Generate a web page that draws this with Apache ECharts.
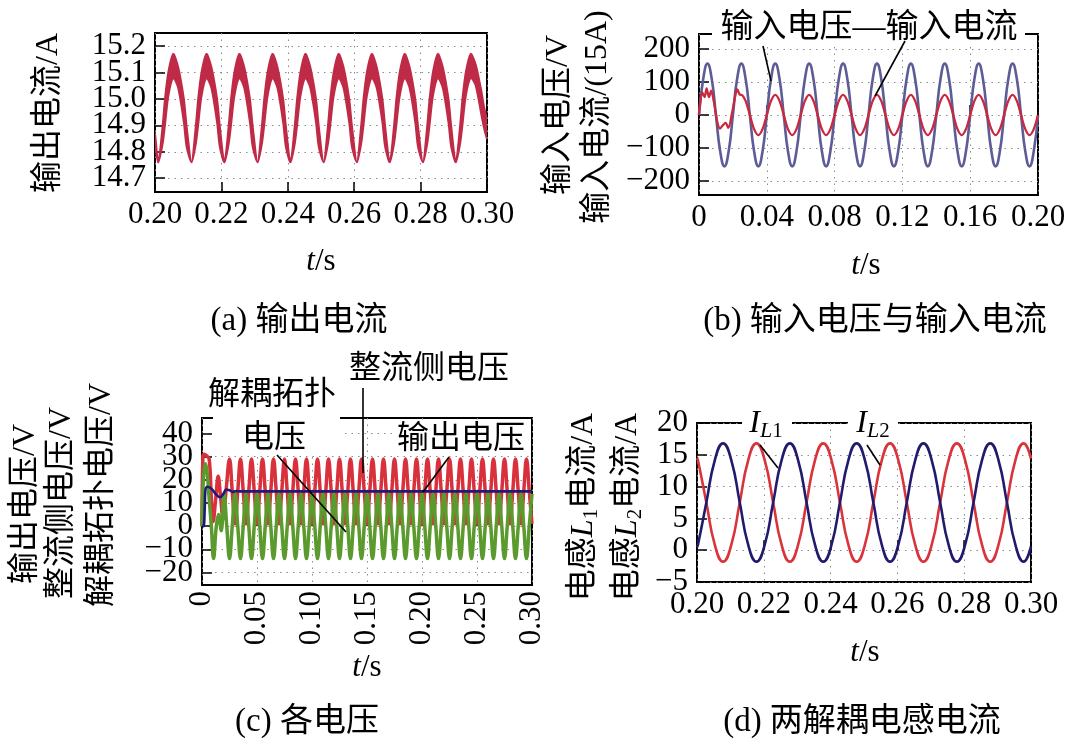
<!DOCTYPE html>
<html><head><meta charset="utf-8">
<script src="https://cdn.jsdelivr.net/npm/echarts@6/dist/echarts.min.js"></script>
<style>html,body{margin:0;padding:0;background:#fff}#c{width:1073px;height:749px}</style>
</head><body><div id="c"></div>
<script>
// ---------- (a) output current band (upper / lower envelope), t in s, A ----------
const aTime = [0.2000,
 0.2010,0.2023,0.2030,0.2040,0.2055,0.2070,0.2087,0.2095,
 0.2110,0.2123,0.2130,0.2140,0.2155,0.2170,0.2187,0.2195,
 0.2209,0.2222,0.2229,0.2239,0.2254,0.2269,0.2286,0.2294,
 0.2309,0.2322,0.2329,0.2339,0.2354,0.2369,0.2386,0.2394,
 0.2408,0.2421,0.2428,0.2438,0.2453,0.2468,0.2485,0.2493,
 0.2508,0.2521,0.2528,0.2538,0.2553,0.2568,0.2585,0.2593,
 0.2608,0.2621,0.2628,0.2638,0.2653,0.2668,0.2685,0.2693,
 0.2707,0.2720,0.2727,0.2737,0.2752,0.2767,0.2784,0.2792,
 0.2807,0.2820,0.2827,0.2837,0.2852,0.2867,0.2884,0.2892,
 0.2906,0.2919,0.2926,0.2936,0.2951,0.2966,0.2983,0.2991,
 0.3000];
const aUpper = [14.87,
 14.76,14.90,15.00,15.10,15.17,15.12,15.00,14.90,
 14.76,14.90,15.00,15.10,15.17,15.12,15.00,14.90,
 14.76,14.90,15.00,15.10,15.17,15.12,15.00,14.90,
 14.76,14.90,15.00,15.10,15.17,15.12,15.00,14.90,
 14.76,14.90,15.00,15.10,15.17,15.12,15.00,14.90,
 14.76,14.90,15.00,15.10,15.17,15.12,15.00,14.90,
 14.76,14.90,15.00,15.10,15.17,15.12,15.00,14.90,
 14.76,14.90,15.00,15.10,15.17,15.12,15.00,14.90,
 14.76,14.90,15.00,15.10,15.17,15.12,15.00,14.90,
 14.76,14.90,15.00,15.10,15.17,15.13,15.03,14.97,
 14.92];
const aLower = [14.83,
 14.76,14.83,14.90,15.01,15.08,15.04,14.91,14.82,
 14.76,14.83,14.90,15.01,15.08,15.04,14.91,14.82,
 14.76,14.83,14.90,15.01,15.08,15.04,14.91,14.82,
 14.76,14.83,14.90,15.01,15.08,15.04,14.91,14.82,
 14.76,14.83,14.90,15.01,15.08,15.04,14.91,14.82,
 14.76,14.83,14.90,15.01,15.08,15.04,14.91,14.82,
 14.76,14.83,14.90,15.01,15.08,15.04,14.91,14.82,
 14.76,14.83,14.90,15.01,15.08,15.04,14.91,14.82,
 14.76,14.83,14.90,15.01,15.08,15.04,14.91,14.82,
 14.76,14.83,14.90,15.01,15.08,15.05,14.94,14.89,
 14.85];
const aYTicksOdd = [14.7,14.9,15.1];
const aYTicksEven = [14.8,15.0,15.2];

// ---------- (b) input voltage / input current ----------
const bTime = [0,0.0025,0.005,0.0075,0.01,0.0125,0.015,0.0175,0.02,0.0225,0.025,0.0275,0.03,0.0325,0.035,0.0375,
 0.04,0.0425,0.045,0.0475,0.05,0.0525,0.055,0.0575,0.06,0.0625,0.065,0.0675,0.07,0.0725,0.075,0.0775,
 0.08,0.0825,0.085,0.0875,0.09,0.0925,0.095,0.0975,0.1,0.1025,0.105,0.1075,0.11,0.1125,0.115,0.1175,
 0.12,0.1225,0.125,0.1275,0.13,0.1325,0.135,0.1375,0.14,0.1425,0.145,0.1475,0.15,0.1525,0.155,0.1575,
 0.16,0.1625,0.165,0.1675,0.17,0.1725,0.175,0.1775,0.18,0.1825,0.185,0.1875,0.19,0.1925,0.195,0.1975,0.2];
const bVolt = [0,110,156,110,0,-110,-156,-110, 0,110,156,110,0,-110,-156,-110,
 0,110,156,110,0,-110,-156,-110, 0,110,156,110,0,-110,-156,-110,
 0,110,156,110,0,-110,-156,-110, 0,110,156,110,0,-110,-156,-110,
 0,110,156,110,0,-110,-156,-110, 0,110,156,110,0,-110,-156,-110,
 0,110,156,110,0,-110,-156,-110, 0,110,156,110,0,-110,-156,-110, 0];
const bCurrTime = [0,0.0008,0.0019,0.0033,0.0045,0.0059,0.0072,0.0088,0.0108,0.0124,0.0141,0.0157,0.0173,0.0196,0.0216,0.0226,0.0240,0.0255,
 0.0275,0.03,0.0325,0.035,0.0375,0.04,0.0425,0.045,0.0475,0.05,0.0525,0.055,0.0575,0.06,0.0625,0.065,0.0675,0.07,0.0725,0.075,0.0775,
 0.08,0.0825,0.085,0.0875,0.09,0.0925,0.095,0.0975,0.1,0.1025,0.105,0.1075,0.11,0.1125,0.115,0.1175,
 0.12,0.1225,0.125,0.1275,0.13,0.1325,0.135,0.1375,0.14,0.1425,0.145,0.1475,0.15,0.1525,0.155,0.1575,
 0.16,0.1625,0.165,0.1675,0.17,0.1725,0.175,0.1775,0.18,0.1825,0.185,0.1875,0.19,0.1925,0.195,0.1975,0.2];
const bCurr = [0,40,69,54,81,54,74,39,-21,-41,-31,-24,-39,9,64,78,62,60,
 43, 0,-43,-61,-43,0,43,61,43, 0,-43,-61,-43,0,43,61,43, 0,-43,-61,-43,0,43,61,43,
 0,-43,-61,-43,0,43,61,43, 0,-43,-61,-43,0,43,61,43, 0,-43,-61,-43,0,43,61,43,
 0,-43,-61,-43,0,43,61,43, 0,-43,-61,-43,0,43,61,43, 0,-43,-61,-43,0];
const bYTicks = [-200,-100,0,100,200];

// ---------- (c) voltages ----------
const cRedTT = [0,0.0008,0.002,0.004,0.0065,0.0085,0.0101,0.0125,0.0147,0.017,0.0192,0.022];
const cRedTV = [0,30,31,30.5,29,12,2,12,21.5,12,3,16];
const cGreenTT = [0,0.0012,0.003,0.0045,0.0065,0.0085,0.0105,0.013,0.015,0.0175,0.02,0.0225];
const cGreenTV = [0,20,27,24,12,0,-14,0,5,-2,14,0];
const cTime = [0.025,0.0275,0.03,0.0325,0.035,0.0375,0.04,0.0425,0.045,0.0475,
 0.05,0.0525,0.055,0.0575,0.06,0.0625,0.065,0.0675,0.07,0.0725,
 0.075,0.0775,0.08,0.0825,0.085,0.0875,0.09,0.0925,0.095,0.0975,
 0.1,0.1025,0.105,0.1075,0.11,0.1125,0.115,0.1175,0.12,0.1225,
 0.125,0.1275,0.13,0.1325,0.135,0.1375,0.14,0.1425,0.145,0.1475,
 0.15,0.1525,0.155,0.1575,0.16,0.1625,0.165,0.1675,0.17,0.1725,
 0.175,0.1775,0.18,0.1825,0.185,0.1875,0.19,0.1925,0.195,0.1975,
 0.2,0.2025,0.205,0.2075,0.21,0.2125,0.215,0.2175,0.22,0.2225,
 0.225,0.2275,0.23,0.2325,0.235,0.2375,0.24,0.2425,0.245,0.2475,
 0.25,0.2525,0.255,0.2575,0.26,0.2625,0.265,0.2675,0.27,0.2725,
 0.275,0.2775,0.28,0.2825,0.285,0.2875,0.29,0.2925,0.295,0.2975,
 0.3];
const cRed = [29,15,1,15,29,15,1,15,29,15, 1,15,29,15,1,15,29,15,1,15,
 29,15,1,15,29,15,1,15,29,15, 1,15,29,15,1,15,29,15,1,15,
 29,15,1,15,29,15,1,15,29,15, 1,15,29,15,1,15,29,15,1,15,
 29,15,1,15,29,15,1,15,29,15, 1,15,29,15,1,15,29,15,1,15,
 29,15,1,15,29,15,1,15,29,15, 1,15,29,15,1,15,29,15,1,15,
 29,15,1,15,29,15,1,15,29,15, 1];
const cGreen = [-14,0,14,0,-14,0,14,0,-14,0, 14,0,-14,0,14,0,-14,0,14,0,
 -14,0,14,0,-14,0,14,0,-14,0, 14,0,-14,0,14,0,-14,0,14,0,
 -14,0,14,0,-14,0,14,0,-14,0, 14,0,-14,0,14,0,-14,0,14,0,
 -14,0,14,0,-14,0,14,0,-14,0, 14,0,-14,0,14,0,-14,0,14,0,
 -14,0,14,0,-14,0,14,0,-14,0, 14,0,-14,0,14,0,-14,0,14,0,
 -14,0,14,0,-14,0,14,0,-14,0, 14];
const cBlueTime = [0,0.0015,0.0025,0.0032,0.005,0.009,0.013,0.0165,0.0195,0.022,0.025,0.028,0.031,0.035,0.3];
const cBlue = [0,0,8,16,17,16,13.5,12.5,14,15.8,15.5,14.8,15.2,15,15];
const cYTicksA = [-20,0,20,40];
const cYTicksB = [-10,10,30];

// ---------- (d) inductor currents ----------
const dTime = [0.2,
 0.2003,0.2028,0.2053,0.2078,0.2103,0.2128,0.2153,0.2178,
 0.2203,0.2228,0.2253,0.2278,0.2303,0.2328,0.2353,0.2378,
 0.2403,0.2428,0.2453,0.2478,0.2503,0.2528,0.2553,0.2578,
 0.2603,0.2628,0.2653,0.2678,0.2703,0.2728,0.2753,0.2778,
 0.2803,0.2828,0.2853,0.2878,0.2903,0.2928,0.2953,0.2978,
 0.3];
const dIL2 = [0.5,
 0.9,7.5,14.1,16.8,14.1,7.5,0.9,-1.8, 0.9,7.5,14.1,16.8,14.1,7.5,0.9,-1.8,
 0.9,7.5,14.1,16.8,14.1,7.5,0.9,-1.8, 0.9,7.5,14.1,16.8,14.1,7.5,0.9,-1.8,
 0.9,7.5,14.1,16.8,14.1,7.5,0.9,-1.8, 0.6];
const dIL1 = [14.5,
 14.1,7.5,0.9,-1.8,0.9,7.5,14.1,16.8, 14.1,7.5,0.9,-1.8,0.9,7.5,14.1,16.8,
 14.1,7.5,0.9,-1.8,0.9,7.5,14.1,16.8, 14.1,7.5,0.9,-1.8,0.9,7.5,14.1,16.8,
 14.1,7.5,0.9,-1.8,0.9,7.5,14.1,16.8, 14.4];

// ---------- styling ----------
const FONT = "'Liberation Serif','Noto Sans CJK SC',serif";
const pair = (t, v) => t.map((x, i) => [x, v[i]]);
const minus = v => (v < 0 ? '\u2212' + (-v) : String(v));

function grid(l, t, w, h) {
  return {left: l, top: t, width: w, height: h, show: true, borderColor: '#000', borderWidth: 2,
    backgroundColor: 'rgba(0,0,0,0)', containLabel: false, outerBoundsMode: 'none'};
}
const split = {show: true, lineStyle: {color: '#8a8a8a', width: 1, type: [1.5, 5]}};
function xAx(gi, min, max, interval, fmt, rotate) {
  return {type: 'value', gridIndex: gi, min, max, interval,
    axisLine: {show: false},
    axisTick: {show: true, inside: true, length: 10, lineStyle: {color: '#000', width: 1.5}},
    axisLabel: {formatter: fmt, fontFamily: FONT, fontSize: 31, color: '#000', margin: rotate ? 6 : 7,
      rotate: rotate || 0, showMinLabel: true, showMaxLabel: true, hideOverlap: false},
    splitLine: split};
}
function yAx(gi, min, max, ticks, fmt, interval) {
  const ax = {type: 'value', gridIndex: gi, min, max, position: 'left', offset: 0,
    axisLine: {show: false, onZero: false},
    axisTick: {show: true, inside: true, length: 10, lineStyle: {color: '#000', width: 1.5}},
    axisLabel: {formatter: fmt, fontFamily: FONT, fontSize: 31, color: '#000', margin: 9,
      showMinLabel: true, showMaxLabel: true, hideOverlap: false},
    splitLine: split};
  if (ticks) { ax.axisTick.customValues = ticks; ax.axisLabel.customValues = ticks; }
  if (interval) ax.interval = interval;
  return ax;
}
function line(xi, data, color, width, extra) {
  return Object.assign({type: 'line', xAxisIndex: xi, yAxisIndex: xi, data, symbol: 'none',
    showSymbol: false, smooth: 0.5, animation: false, lineStyle: {color, width}, z: 2}, extra || {});
}

const RA = '#bf2b47', BV = '#5d5c96', RC = '#c9283d', CR = '#d8313b', CG = '#5b9a2c', CB = '#1d1a78';
const DR = '#d9343c', DB = '#211b6e';

// band of panel (a): upper envelope forward, lower envelope back, through the axis scale
function bandItem(params, api) {
  if (params.dataIndex !== 0) return null;
  const pts = [];
  for (let i = 0; i < aTime.length; i++) pts.push(api.coord([aTime[i], aUpper[i]]));
  for (let i = aTime.length - 1; i >= 0; i--) pts.push(api.coord([aTime[i], aLower[i]]));
  return {type: 'polygon', shape: {points: pts, smooth: 0.25},
    style: {fill: RA, stroke: RA, lineWidth: 1.9, lineJoin: 'round'}};
}

// graphic helpers
function T(x, y, text, o) {
  o = o || {};
  return {type: 'text', x, y, z: 100, rotation: o.rot || 0,
    style: Object.assign({text, fill: '#000', fontSize: 32, fontFamily: FONT, align: 'center',
      verticalAlign: 'middle'}, o.style || {})};
}
function R(x, y, w, h) { return {type: 'rect', z: 90, shape: {x, y, width: w, height: h}, style: {fill: '#fff'}}; }
function L(x1, y1, x2, y2) { return {type: 'line', z: 95, shape: {x1, y1, x2, y2}, style: {stroke: '#000', lineWidth: 1.6}}; }
const ROT = Math.PI / 2;
const itRich = {it: {fontStyle: 'italic', fontFamily: FONT, fontSize: 31}, n: {fontFamily: FONT, fontSize: 31}};
const subRich = {
  i: {fontStyle: 'italic', fontFamily: FONT, fontSize: 32, lineHeight: 40, verticalAlign: 'middle'},
  si: {fontStyle: 'italic', fontFamily: FONT, fontSize: 22, lineHeight: 40, verticalAlign: 'bottom', padding: [0, 0, 2, 0]},
  s: {fontFamily: FONT, fontSize: 21, lineHeight: 40, verticalAlign: 'bottom', padding: [0, 0, 2, 0]},
  c: {fontFamily: FONT, fontSize: 32, lineHeight: 40, verticalAlign: 'middle'}
};
const capStyle = {style: {fontSize: 33}};

const option = {
  backgroundColor: '#fff',
  animation: false,
  grid: [grid(155, 33, 332, 159), grid(699, 34, 339, 161), grid(202, 418, 330, 167), grid(697, 423, 334, 159)],
  xAxis: [
    xAx(0, 0.2, 0.3, 0.02, v => v.toFixed(2)),
    xAx(1, 0, 0.2, 0.04, v => (v === 0 ? '0' : v.toFixed(2))),
    xAx(2, 0, 0.3, 0.05, v => (v === 0 ? '0' : v.toFixed(2)), 90),
    xAx(3, 0.2, 0.3, 0.02, v => v.toFixed(2))
  ],
  yAxis: [
    yAx(0, 14.648, 15.249, aYTicksOdd, v => v.toFixed(1)),
    yAx(1, -243, 246, bYTicks, minus),
    yAx(2, -25.4, 46.7, cYTicksA, minus),
    yAx(3, -5, 20, null, minus, 5),
    yAx(0, 14.648, 15.249, aYTicksEven, v => v.toFixed(1)),
    yAx(2, -25.4, 46.7, cYTicksB, minus)
  ],
  series: [
    {type: 'custom', xAxisIndex: 0, yAxisIndex: 0, clip: true, animation: false, z: 2,
      data: [[aTime[0], aLower[0]]], renderItem: bandItem},
    line(1, pair(bTime, bVolt), BV, 2.6),
    line(1, pair(bCurrTime, bCurr), RC, 2.3, {smooth: 0.3}),
    line(2, pair(cRedTT, cRedTV).concat(pair(cTime, cRed)), CR, 3.5, {smooth: 0.4}),
    line(2, pair(cGreenTT, cGreenTV).concat(pair(cTime, cGreen)), CG, 3.5, {smooth: 0.4}),
    line(2, pair(cBlueTime, cBlue), CB, 2.6, {smooth: 0.3}),
    line(3, pair(dTime, dIL1), DR, 2.6),
    line(3, pair(dTime, dIL2), DB, 2.6)
  ],
  graphic: {elements: [
    // (a)
    T(49, 113, '输出电流/A', {rot: ROT}),
    T(321, 262, '{it|t}{n|/s}', {style: {rich: itRich}}),
    T(299, 321, '(a) 输出电流', capStyle),
    // (b)
    T(559, 115, '输入电压/V', {rot: ROT}),
    T(598, 117, '输入电流/(15A)', {rot: ROT}),
    R(712, 8, 313, 37),
    T(869, 28, '输入电压—输入电流', {style: {fontSize: 33}}),
    L(763, 46, 771, 81), L(905, 41, 875, 96),
    T(866, 266, '{it|t}{n|/s}', {style: {rich: itRich}}),
    T(875, 321, '(b) 输入电压与输入电流', capStyle),
    // (c)
    T(26, 504, '输出电压/V', {rot: ROT}),
    T(62, 503, '整流侧电压/V', {rot: ROT}),
    T(102, 495, '解耦拓扑电压/V', {rot: ROT}),
    R(213, 376, 127, 76),
    T(272, 396, '解耦拓扑'),
    T(274, 439, '电压'),
    T(429, 370, '整流侧电压'),
    R(392, 422, 137, 32),
    T(461, 440, '输出电压'),
    L(363, 388, 363, 473), L(277, 455, 346, 532), L(449, 457, 423, 492),
    T(367, 668, '{it|t}{n|/s}', {style: {rich: itRich}}),
    T(307, 722, '(c) 各电压', capStyle),
    // (d)
    T(584, 507, '电感{i|L}{s|1}{c|电流/A}', {rot: ROT, style: {rich: subRich}}),
    T(628, 507, '电感{i|L}{s|2}{c|电流/A}', {rot: ROT, style: {rich: subRich}}),
    R(742, 404, 50, 38), R(848, 404, 50, 38),
    T(766, 424, '{i|I}{si|L}{s|1}', {style: {rich: subRich}}),
    T(873, 424, '{i|I}{si|L}{s|2}', {style: {rich: subRich}}),
    L(760, 445, 778, 468), L(867, 445, 880, 465),
    T(865, 653, '{it|t}{n|/s}', {style: {rich: itRich}}),
    T(862, 722, '(d) 两解耦电感电流', capStyle)
  ]}
};
const chart = echarts.init(document.getElementById('c'), null, {renderer: 'canvas'});
chart.setOption(option);
</script></body></html>
